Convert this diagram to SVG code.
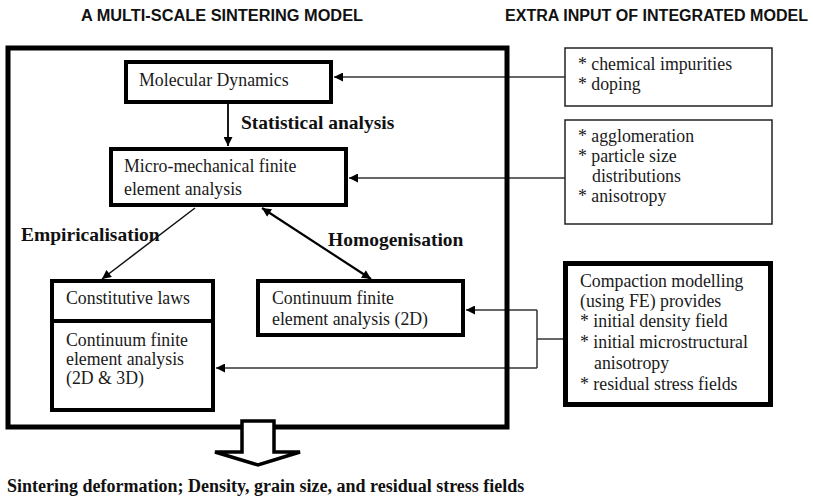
<svg xmlns="http://www.w3.org/2000/svg" width="813" height="499" viewBox="0 0 813 499">
<style>
  .t { font-family: "Liberation Serif", "DejaVu Serif", serif; font-size: 17.8px; fill: #1a1a1a; }
  .b { font-family: "Liberation Serif", "DejaVu Serif", serif; font-size: 19.5px; font-weight: bold; fill: #111; }
  .o { font-family: "Liberation Serif", "DejaVu Serif", serif; font-size: 18px; font-weight: bold; fill: #111; }
  .h { font-family: "Liberation Sans", Arial, sans-serif; font-size: 16px; font-weight: bold; fill: #111; }
  .box { fill: #fff; stroke: #000; stroke-width: 4; }
  .thin { fill: #fff; stroke: #222; stroke-width: 1.5; }
  .c { fill: none; stroke: #333; stroke-width: 1.5; }
</style>
<defs>
  <marker id="ah" viewBox="0 0 10 10" refX="10" refY="5" markerUnits="userSpaceOnUse" markerWidth="10" markerHeight="9" orient="auto-start-reverse">
    <path d="M0,0 L10,5 L0,10 z" fill="#000"/>
  </marker>
</defs>
<rect width="813" height="499" fill="#fff"/>

<text class="h" x="81" y="21" textLength="282" lengthAdjust="spacingAndGlyphs">A MULTI-SCALE SINTERING MODEL</text>
<text class="h" x="505" y="21" textLength="303" lengthAdjust="spacingAndGlyphs">EXTRA INPUT OF INTEGRATED MODEL</text>

<g id="connectors">
  <line class="c" x1="565" y1="77" x2="334" y2="77" marker-end="url(#ah)"/>
  <line class="c" x1="565" y1="178" x2="349" y2="178" marker-end="url(#ah)"/>
  <line x1="228" y1="104" x2="228" y2="146" stroke="#000" stroke-width="1.8" marker-end="url(#ah)"/>
  <line x1="195" y1="208" x2="102" y2="279" stroke="#111" stroke-width="1.5" marker-end="url(#ah)"/>
  <line x1="262" y1="208" x2="371" y2="279" stroke="#000" stroke-width="2.2" marker-start="url(#ah)" marker-end="url(#ah)"/>
  <polyline class="c" points="563,339 537,339"/>
  <polyline class="c" points="537,310 537,368"/>
  <line class="c" x1="537" y1="310" x2="466" y2="310" marker-end="url(#ah)"/>
  <line class="c" x1="537" y1="368" x2="216" y2="368" marker-end="url(#ah)"/>
</g>

<g id="outer">
  <rect x="8" y="48" width="499" height="379" fill="none" stroke="#000" stroke-width="5"/>
</g>

<g id="md">
  <rect class="box" x="126" y="62" width="205" height="40"/>
  <text class="t" x="139" y="86">Molecular Dynamics</text>
</g>

<g id="label-stat">
  <text class="b" x="241" y="129">Statistical analysis</text>
</g>

<g id="micro">
  <rect class="box" x="111" y="149" width="235" height="56"/>
  <text class="t" x="124" y="172">Micro-mechanical finite</text>
  <text class="t" x="124" y="195">element analysis</text>
</g>

<g id="label-emp">
  <text class="b" x="21" y="241">Empiricalisation</text>
</g>
<g id="label-hom">
  <text class="b" x="328" y="246">Homogenisation</text>
</g>

<g id="constitutive">
  <rect class="box" x="52" y="281" width="161" height="129"/>
  <line x1="52" y1="321" x2="213" y2="321" stroke="#000" stroke-width="4"/>
  <text class="t" x="66" y="304">Constitutive laws</text>
  <text class="t" x="66" y="346">Continuum finite</text>
  <text class="t" x="66" y="365">element analysis</text>
  <text class="t" x="66" y="384">(2D &amp; 3D)</text>
</g>

<g id="continuum2d">
  <rect class="box" x="258" y="281" width="205" height="54"/>
  <text class="t" x="272" y="304">Continuum finite</text>
  <text class="t" x="272" y="325">element analysis (2D)</text>
</g>

<g id="chem">
  <rect class="thin" x="565" y="48" width="207" height="58"/>
  <text class="t" x="578" y="70">* chemical impurities</text>
  <text class="t" x="578" y="90">* doping</text>
</g>

<g id="agglo">
  <rect class="thin" x="565" y="120" width="207" height="104"/>
  <text class="t" x="578" y="142">* agglomeration</text>
  <text class="t" x="578" y="162">* particle size</text>
  <text class="t" x="592" y="182">distributions</text>
  <text class="t" x="578" y="202">* anisotropy</text>
</g>

<g id="compaction">
  <rect x="565.5" y="263.5" width="205" height="141" fill="#fff" stroke="#000" stroke-width="5"/>
  <text class="t" x="580" y="287">Compaction modelling</text>
  <text class="t" x="580" y="307">(using FE) provides</text>
  <text class="t" x="580" y="327">* initial density field</text>
  <text class="t" x="580" y="348">* initial microstructural</text>
  <text class="t" x="594" y="369">anisotropy</text>
  <text class="t" x="580" y="390">* residual stress fields</text>
</g>

<g id="output-arrow">
  <path d="M242,421 L274,421 L274,452 L300,452 L258,465 L215,452 L242,452 Z" fill="#fff" stroke="#000" stroke-width="3.5" stroke-linejoin="miter"/>
</g>

<g id="output">
  <text class="o" x="7" y="492">Sintering deformation; Density, grain size, and residual stress fields</text>
</g>
</svg>
